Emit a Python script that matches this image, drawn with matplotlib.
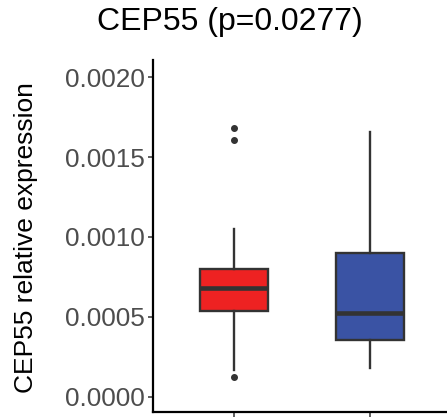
import matplotlib
matplotlib.use("Agg")
import matplotlib.pyplot as plt

plt.rcParams["font.family"] = ["Liberation Sans", "DejaVu Sans"]

# values (five-number summary + outliers)
groups = ["Group 1", "Group 2"]
medians = [0.000679, 0.000527]
q1s = [0.000535, 0.000356]
q3s = [0.000798, 0.000902]
whisk_lo = [0.000169, 0.000183]
whisk_hi = [0.001048, 0.001658]
outliers = [[0.000123, 0.001606, 0.001679], []]
fills = ["#EE2222", "#3A53A4"]
yticks = [0.0000, 0.0005, 0.0010, 0.0015, 0.0020]

edge = "#333333"

fig = plt.figure(figsize=(4.47, 4.19), dpi=100)
ax = fig.add_axes([0.342, 0.0167, 0.669, 0.840])

stats = []
for i, g in enumerate(groups):
    stats.append({
        "label": g,
        "med": medians[i],
        "q1": q1s[i],
        "q3": q3s[i],
        "whislo": whisk_lo[i],
        "whishi": whisk_hi[i],
        "fliers": outliers[i],
    })

bp = ax.bxp(
    stats,
    positions=[1, 2],
    widths=0.5,
    patch_artist=True,
    showcaps=False,
    boxprops=dict(edgecolor=edge, linewidth=1.7),
    medianprops=dict(color=edge, linewidth=3.3, solid_capstyle="butt"),
    whiskerprops=dict(color=edge, linewidth=1.7),
    flierprops=dict(marker="o", markerfacecolor=edge, markeredgecolor=edge, markersize=4),
)
for patch, c in zip(bp["boxes"], fills):
    patch.set_facecolor(c)

ax.set_xlim(0.4, 2.6)
ax.set_ylim(-0.0000938, 0.002106)
ax.set_yticks(yticks)
ax.set_yticklabels([f"{v:.4f}" for v in yticks])
ax.set_xticks([1, 2])
ax.set_xticklabels(["", ""])

for side in ["top", "right"]:
    ax.spines[side].set_visible(False)
for side in ["left", "bottom"]:
    ax.spines[side].set_linewidth(1.6)
    ax.spines[side].set_color("black")

ax.tick_params(axis="y", labelsize=18.8, labelcolor="#4D4D4D", length=3.6, width=1.1,
               color="#333333", pad=2)
ax.tick_params(axis="x", length=3.6, width=1.1, color="#333333")

fig.text(26 / 447, 1 - 238 / 419, "CEP55 relative expression", rotation=90,
         ha="center", va="center", fontsize=19)
fig.text(230 / 447, 1 - 22 / 419, "CEP55 (p=0.0277)", ha="center", va="center", fontsize=23)

fig.savefig("out.png", dpi=100)
